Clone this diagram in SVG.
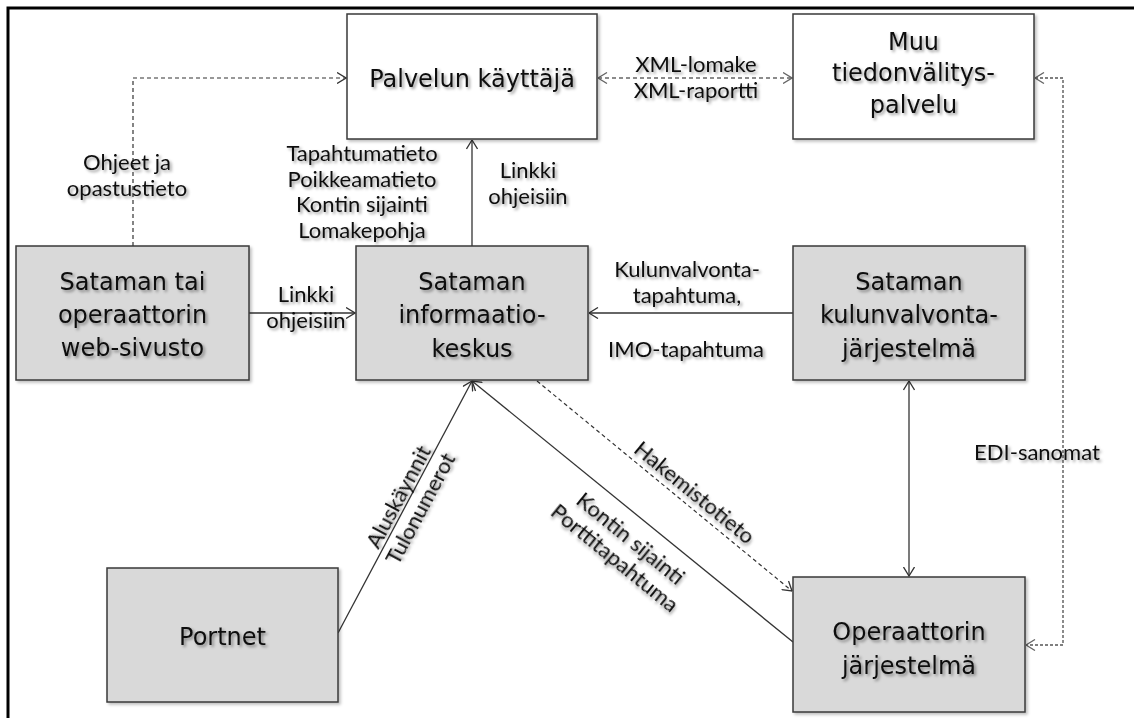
<svg xmlns="http://www.w3.org/2000/svg" width="1134" height="718" viewBox="0 0 1134 718">
  <defs>
    <filter id="boxShadow" x="-5%" y="-5%" width="112%" height="115%">
      <feGaussianBlur in="SourceAlpha" stdDeviation="1.5"/>
      <feOffset dx="2" dy="2" result="b"/>
      <feFlood flood-color="#000" flood-opacity="0.25"/>
      <feComposite in2="b" operator="in"/>
      <feMerge><feMergeNode/><feMergeNode in="SourceGraphic"/></feMerge>
    </filter>
    <filter id="textShadow" x="-10%" y="-30%" width="125%" height="170%">
      <feGaussianBlur in="SourceAlpha" stdDeviation="1.4"/>
      <feOffset dx="1.5" dy="1.5" result="b"/>
      <feFlood flood-color="#000" flood-opacity="0.4"/>
      <feComposite in2="b" operator="in"/>
      <feMerge><feMergeNode/><feMergeNode in="SourceGraphic"/></feMerge>
    </filter>
    <marker id="arrow" viewBox="0 0 10 12" refX="9.5" refY="6" markerWidth="10" markerHeight="12" markerUnits="userSpaceOnUse" orient="auto-start-reverse">
      <path d="M0.5,0.5 L9.5,6 L0.5,11.5" fill="none" stroke="#333" stroke-width="1.3"/>
    </marker>
    <marker id="arrowGray" viewBox="0 0 10 12" refX="9.5" refY="6" markerWidth="10" markerHeight="12" markerUnits="userSpaceOnUse" orient="auto-start-reverse">
      <path d="M0.5,0.5 L9.5,6 L0.5,11.5" fill="none" stroke="#666" stroke-width="1.3"/>
    </marker>
  </defs>
  <style>
    .box { stroke: #3a3a3a; stroke-width: 1.5; filter: url(#boxShadow); }
    .white { fill: #ffffff; }
    .gray { fill: #d9d9d9; }
    .btxt { font-family: "DejaVu Sans", Verdana, sans-serif; font-size: 24px; fill: #111; text-anchor: middle; filter: url(#textShadow); }
    .lbl { font-family: Lato, "Liberation Sans", sans-serif; font-size: 22px; fill: #111; text-anchor: middle; filter: url(#textShadow); }
    .solid { fill: none; stroke: #333; stroke-width: 1.3; }
    .dash { fill: none; stroke: #333; stroke-width: 1.2; stroke-dasharray: 4 3; }
    .dashGray { fill: none; stroke: #666; stroke-width: 1.3; stroke-dasharray: 4 3; }
    .dashEdi { fill: none; stroke: #7f7f7f; stroke-width: 1.8; stroke-dasharray: 3 2; }
  </style>

  <rect width="1134" height="718" fill="#ffffff"/>
  <!-- frame -->
  <path d="M8,718 V8 H1134" fill="none" stroke="#000" stroke-width="3"/>

  <!-- connectors -->
  <g id="connectors">
    <polyline class="dash" points="133,246 133,78 346,78" marker-end="url(#arrow)"/>
    <line class="dashGray" x1="598" y1="78" x2="792" y2="78" marker-start="url(#arrowGray)" marker-end="url(#arrowGray)"/>
    <polyline class="dashEdi" points="1035,78 1063,78 1063,645 1026,645" marker-start="url(#arrowGray)" marker-end="url(#arrowGray)"/>
    <line class="solid" x1="472" y1="246" x2="472" y2="140" marker-end="url(#arrow)"/>
    <line class="solid" x1="249" y1="313" x2="355" y2="313" marker-end="url(#arrow)"/>
    <line class="solid" x1="793" y1="313" x2="589" y2="313" marker-end="url(#arrow)"/>
    <line class="solid" x1="909" y1="381" x2="909" y2="576" marker-start="url(#arrow)" marker-end="url(#arrow)"/>
    <line class="solid" x1="338" y1="633" x2="472" y2="381" marker-end="url(#arrow)"/>
    <line class="solid" x1="793" y1="642" x2="472" y2="381" marker-end="url(#arrow)"/>
    <line class="dash" x1="537" y1="381" x2="792" y2="591" marker-end="url(#arrow)"/>
  </g>

  <!-- connector labels -->
  <g id="labels">
    <text class="lbl" x="127" y="170">Ohjeet ja</text>
    <text class="lbl" x="127" y="196">opastustieto</text>
    <text class="lbl" x="362" y="161">Tapahtumatieto</text>
    <text class="lbl" x="362" y="187">Poikkeamatieto</text>
    <text class="lbl" x="362" y="212">Kontin sijainti</text>
    <text class="lbl" x="362" y="238">Lomakepohja</text>
    <text class="lbl" x="528" y="178">Linkki</text>
    <text class="lbl" x="528" y="204">ohjeisiin</text>
    <text class="lbl" x="306" y="302">Linkki</text>
    <text class="lbl" x="306" y="328">ohjeisiin</text>
    <text class="lbl" x="687" y="277">Kulunvalvonta-</text>
    <text class="lbl" x="687" y="303">tapahtuma,</text>
    <text class="lbl" x="686" y="357">IMO-tapahtuma</text>
    <text class="lbl" x="696" y="72">XML-lomake</text>
    <text class="lbl" x="696" y="98">XML-raportti</text>
    <text class="lbl" x="1037" y="460">EDI-sanomat</text>
    <g transform="translate(408.4,502.4) rotate(-61.8)">
      <text class="lbl" x="0" y="-3.7">Aluskäynnit</text>
      <text class="lbl" x="0" y="21">Tulonumerot</text>
    </g>
    <g transform="translate(644.8,521.1) rotate(39.2)">
      <text class="lbl" x="0" y="30">Kontin sijainti</text>
      <text class="lbl" x="0" y="55">Porttitapahtuma</text>
    </g>
    <g transform="translate(685.3,503.7) rotate(39.3)">
      <text class="lbl" x="0" y="-7">Hakemistotieto</text>
    </g>
  </g>

  <!-- nodes -->
  <g id="palvelun-kayttaja">
    <rect class="box white" x="347" y="14" width="250" height="125"/>
    <text class="btxt" x="472" y="87">Palvelun käyttäjä</text>
  </g>
  <g id="muu-tiedonvalitys">
    <rect class="box white" x="793" y="14" width="241" height="125"/>
    <text class="btxt" x="913.5" y="50">Muu</text>
    <text class="btxt" x="913.5" y="81">tiedonvälitys-</text>
    <text class="btxt" x="913.5" y="113">palvelu</text>
  </g>
  <g id="web-sivusto">
    <rect class="box gray" x="16" y="246" width="233" height="134"/>
    <text class="btxt" x="132.5" y="290">Sataman tai</text>
    <text class="btxt" x="132.5" y="323">operaattorin</text>
    <text class="btxt" x="132.5" y="356">web-sivusto</text>
  </g>
  <g id="informaatiokeskus">
    <rect class="box gray" x="356" y="246" width="232" height="134"/>
    <text class="btxt" x="472" y="290">Sataman</text>
    <text class="btxt" x="472" y="323">informaatio-</text>
    <text class="btxt" x="472" y="357">keskus</text>
  </g>
  <g id="kulunvalvonta">
    <rect class="box gray" x="793" y="246" width="232" height="134"/>
    <text class="btxt" x="909" y="290">Sataman</text>
    <text class="btxt" x="909" y="323">kulunvalvonta-</text>
    <text class="btxt" x="909" y="357">järjestelmä</text>
  </g>
  <g id="portnet">
    <rect class="box gray" x="107" y="568" width="231" height="134"/>
    <text class="btxt" x="222.5" y="645">Portnet</text>
  </g>
  <g id="operaattorin-jarjestelma">
    <rect class="box gray" x="793" y="577" width="232" height="135"/>
    <text class="btxt" x="909" y="640">Operaattorin</text>
    <text class="btxt" x="909" y="674">järjestelmä</text>
  </g>
</svg>
